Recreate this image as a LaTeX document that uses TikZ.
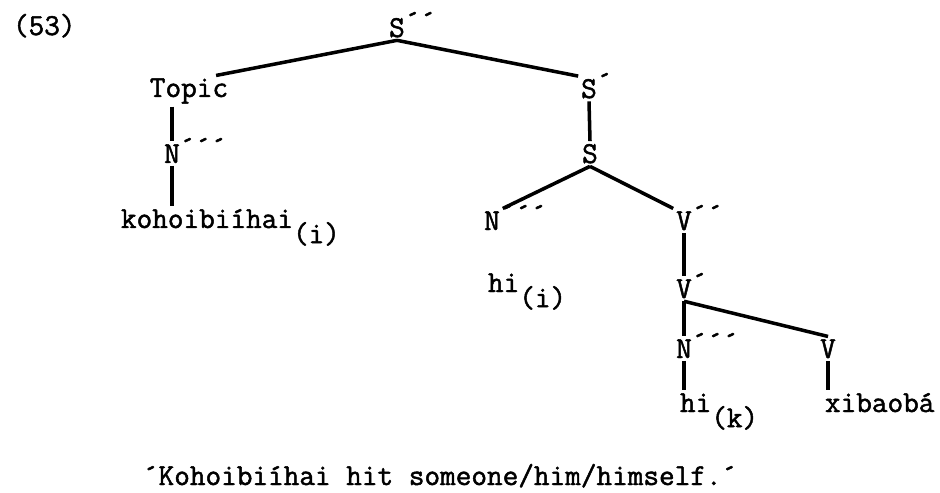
\documentclass[tikz,border=0pt]{standalone}
\usepackage{fontspec}
\newfontfamily\typew{Latin Modern Mono}[FakeBold=1.6]

\newcommand{\bars}[1]{\rlap{\smash{\raisebox{0.2em}{#1}}}}
\newcommand{\idx}[1]{\raisebox{-0.5em}{(#1)}}

\begin{document}
\begin{tikzpicture}
\tikzset{
  every node/.append style = {font = \LARGE\typew},
  cat/.style = {anchor=base, inner sep=1.5pt},
  leaf/.style = {anchor=base west, inner sep=1.5pt},
  branch/.style = {line width=2pt},
}
  \useasboundingbox (0,0) rectangle (18.8,9.84);

  \node[leaf] (ex) at (0.2,9.14) {(53)};

  % upper part
  \node[cat] (S2) at (7.94,9.10) {S\bars{´´}};
  \node[cat] (Topic) at (3.78,7.90) {Topic};
  \node[cat] (S1) at (11.78,7.88) {S\bars{´}};
  \node[cat] (S0) at (11.80,6.58) {S};
  \node[cat] (Ntop) at (3.44,6.58) {N\bars{´´´}};
  \node[leaf] (kohoi) at (2.36,5.28) {kohoibiíhai\idx{i}};

  % verb phrase
  \node[cat] (NS) at (9.84,5.24) {N\bars{´´´}};
  \node[cat] (V2) at (13.68,5.24) {V\bars{´´}};
  \node[leaf] (hii) at (9.70,4.00) {hi\idx{i}};
  \node[cat] (V1) at (13.68,3.88) {V\bars{´}};
  \node[cat] (NO) at (13.68,2.68) {N\bars{´´´}};
  \node[cat] (V0) at (16.56,2.68) {V};
  \node[leaf] (hik) at (13.54,1.60) {hi\idx{k}};
  \node[leaf] (xib) at (16.44,1.60) {xibaobá};

  \node[leaf] (gloss) at (2.80,0.14) {´Kohoibiíhai hit someone/him/himself.´};

  \draw[branch] (S2.south) -- ([xshift=-0.3cm]Topic.north east);
  \draw[branch] (S2.south) -- (S1.north west);
  \draw[branch] (S1.south) -- (S0.north);
  \draw[branch] (Ntop.north |- Topic.south) -- (Ntop.north);
  \draw[branch] (Ntop.south) -- (Ntop.south |- kohoi.north);
  \draw[branch] (S0.south) -- (NS.north east);
  \draw[branch] (S0.south) -- (V2.north west);
  \draw[branch] (V2.south) -- (V1.north);
  \draw[branch] (V1.south) -- (NO.north);
  \draw[branch] (V1.south) -- (V0.north);
  \draw[branch] (NO.south) -- (NO.south |- hik.north);
  \draw[branch] (V0.south) -- (V0.south |- xib.north);

\end{tikzpicture}
\end{document}
